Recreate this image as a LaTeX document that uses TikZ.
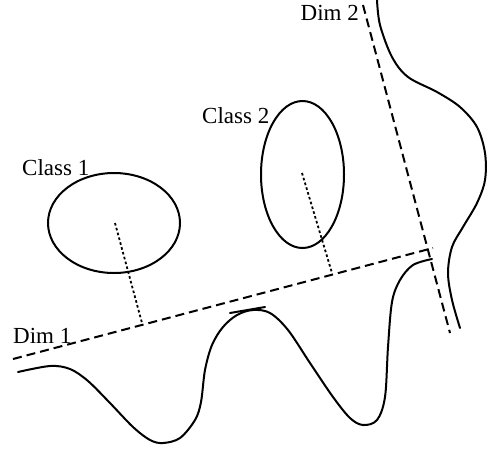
\documentclass[tikz,border=0pt]{standalone}
\usepackage{fontspec}
\setmainfont{Liberation Serif}
\usetikzlibrary{shapes.geometric}
\begin{document}
\begin{tikzpicture}[x=1pt,y=-1pt,
  curve/.style={line width=2pt, line join=round, line cap=round},
  axisline/.style={line width=2pt, dash pattern=on 9pt off 5pt},
  proj/.style={line width=1.8pt, dash pattern=on 2.6pt off 2.4pt},
  lbl/.style={inner sep=0pt, font=\fontsize{23}{27}\selectfont},
  cls/.style={draw, line width=2pt, ellipse, inner sep=0pt}]
\useasboundingbox (0,0) rectangle (487,451);
% classes
\node[cls, minimum width=132pt, minimum height=100pt] (e1) at (114,223) {};
\node[cls, minimum width=83pt, minimum height=147pt] (e2) at (302.5,174.5) {};
\coordinate (c1) at (115,223);
\coordinate (c2) at (302,173);
% axes
\coordinate (d1a) at (13,359);
\coordinate (d1b) at (433,248);
\coordinate (d2a) at (363,5);
\coordinate (d2b) at (450,333);
\draw[axisline] (d1a) -- (d1b);
\draw[axisline] (d2a) -- (d2b);
% projections
\coordinate (f1) at (142,323);
\coordinate (f2) at (332,273);
\draw[proj] (c1) -- (f1);
\draw[proj] (c2) -- (f2);
% labels
\node[lbl, anchor=base west] (l1) at (22,175) {Class 1};
\node[lbl, anchor=base west] (l2) at (202,123) {Class 2};
\node[lbl, anchor=base west] (ld1) at (13,343) {Dim 1};
\node[lbl, anchor=base east] (ld2) at (359,20) {Dim 2};
% distribution along Dim 1
\draw[curve] plot[smooth, tension=0.55] coordinates {
 (18,372) (50,366) (70,369) (88,381) (110,403) (133,427) (150,440) (163,443)
 (180,438) (195,420) (201,402) (205,370) (212,345) (223,327) (237,315) (253,310)
 (270,313) (288,330) (310,363) (333,397) (350,418) (363,425) (377,420) (385,397)
 (388,347) (392,302) (400,280) (413,265) (432,259)};
\coordinate (ta) at (230,313);
\coordinate (tb) at (265,307);
\draw[curve] (ta) -- (tb);
% distribution along Dim 2
\draw[curve] plot[smooth, tension=0.55] coordinates {
 (377,0) (380,25) (392,57) (408,77) (437,92) (460,107) (477,127) (485,153)
 (485,180) (477,203) (463,227) (452,247) (448,273) (452,300) (460,328)};
\end{tikzpicture}
\end{document}
